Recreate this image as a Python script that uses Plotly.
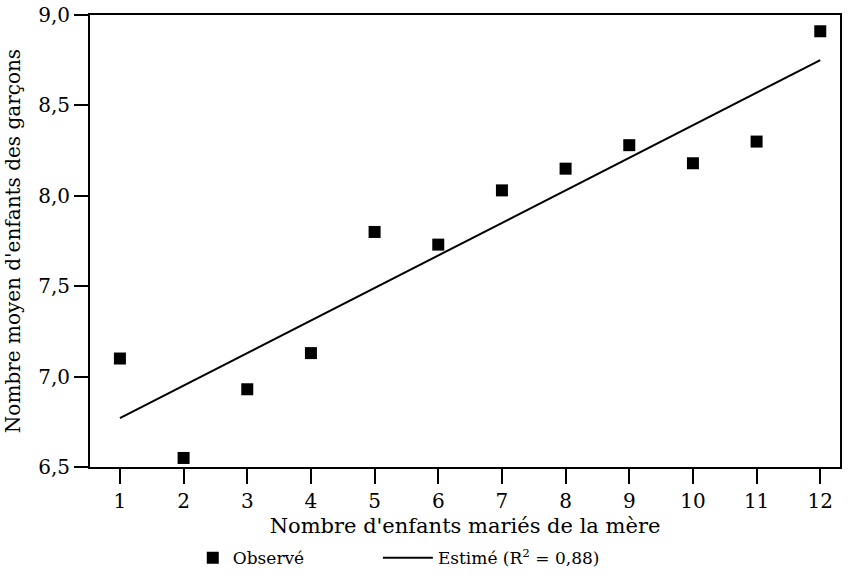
import plotly.graph_objects as go

enfants_maries = [1, 2, 3, 4, 5, 6, 7, 8, 9, 10, 11, 12]
observe = [7.10, 6.55, 6.93, 7.13, 7.80, 7.73, 8.03, 8.15, 8.28, 8.18, 8.30, 8.91]
estime = [6.77, 6.95, 7.13, 7.31, 7.49, 7.67, 7.85, 8.03, 8.21, 8.39, 8.57, 8.75]
y_ticks = [6.5, 7.0, 7.5, 8.0, 8.5, 9.0]
y_tick_labels = ["6,5", "7,0", "7,5", "8,0", "8,5", "9,0"]

FONT = "DejaVu Serif"

fig = go.Figure()
fig.add_trace(go.Scatter(
    x=enfants_maries, y=observe, mode="markers", name="Observé",
    marker=dict(symbol="square", size=12, color="black"),
    legend="legend", showlegend=True,
))
fig.add_trace(go.Scatter(
    x=enfants_maries, y=estime, mode="lines", name="Estimé (R<sup>2</sup> = 0,88)",
    line=dict(color="black", width=2), legend="legend2", showlegend=True,
))

legend_common = dict(orientation="h", xanchor="left", yref="container", xref="container",
                     y=0.031, yanchor="middle", bgcolor="rgba(0,0,0,0)",
                     font=dict(family=FONT, size=17, color="black"))

fig.update_layout(
    width=853, height=576,
    showlegend=True,
    margin=dict(l=90, r=13, t=15, b=109),
    plot_bgcolor="white", paper_bgcolor="white",
    font=dict(family=FONT, size=17, color="black"),
    legend=dict(x=0.226, visible=True, itemwidth=30, **legend_common),
    legend2=dict(x=0.443, visible=True, itemwidth=50, **legend_common),
    xaxis=dict(
        range=[0.53, 12.31], tickmode="array", tickvals=enfants_maries,
        ticks="outside", ticklen=15, tickwidth=2, tickcolor="black",
        showline=True, linecolor="black", linewidth=2, mirror=True,
        showgrid=False, zeroline=False, automargin=False, ticklabeloverflow="allow",
        title=dict(text="Nombre d'enfants mariés de la mère", standoff=6,
                   font=dict(family=FONT, size=21, color="black")),
        tickfont=dict(family=FONT, size=20, color="black"),
    ),
    yaxis=dict(
        range=[6.5, 9.0], tickmode="array", tickvals=y_ticks, ticktext=y_tick_labels,
        ticks="outside", ticklen=14, tickwidth=2, tickcolor="black",
        showline=True, linecolor="black", linewidth=2, mirror=True,
        showgrid=False, zeroline=False, automargin=False, ticklabeloverflow="allow",
        title=dict(text="Nombre moyen d'enfants des garçons", standoff=12,
                   font=dict(family=FONT, size=20, color="black")),
        tickfont=dict(family=FONT, size=20, color="black"),
    ),
)

fig.write_html("out.html", config={"displayModeBar": False},
               post_script="document.body.style.margin='0';")
